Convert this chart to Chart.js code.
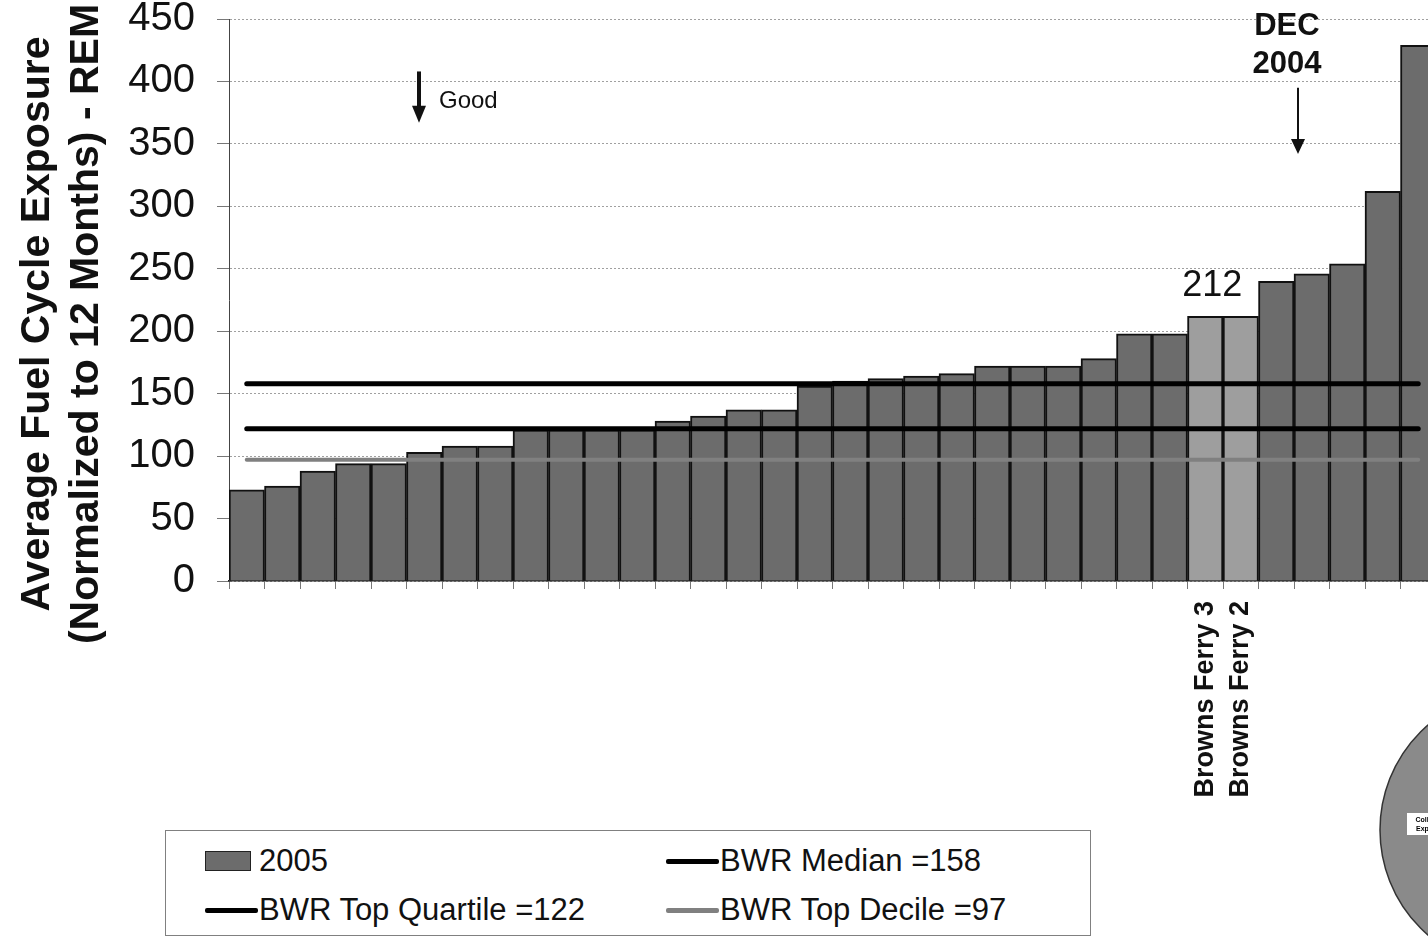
<!DOCTYPE html>
<html>
<head>
<meta charset="utf-8">
<script src="https://cdn.jsdelivr.net/npm/chart.js@4.4.1/dist/chart.umd.min.js"></script>
<style>
  html, body { margin: 0; padding: 0; background: #fff; }
  body { width: 1428px; height: 936px; overflow: hidden; position: relative; font-family: "Liberation Sans", Arial, sans-serif; }
  #wrap { position: absolute; left: 0; top: 0; width: 1445px; height: 936px; }
  #legend { position: absolute; left: 165px; top: 830px; width: 924px; height: 104px; border: 1px solid #808080; background: #fff; }
  .mark { position: absolute; }
  .txt { position: absolute; font-size: 31px; line-height: 36px; color: #111; white-space: nowrap; }
</style>
</head>
<body>
<div id="wrap"><canvas id="chart" width="1445" height="936"></canvas></div>
<div id="legend"></div>
<script>
// units along the x axis, only the two Browns Ferry units are named
const units = [
  '', '', '', '', '', '', '', '', '', '', '', '', '', '', '', '', '',
  '', '', '', '', '', '', '', '', '', '', 'Browns Ferry 3', 'Browns Ferry 2',
  '', '', '', '', ''
];
// average fuel cycle exposure, 2005 (REM)
const exposure2005 = [
  73, 76, 88, 94, 94, 103, 108, 108, 121, 121, 121, 121, 128, 132, 137, 137, 156,
  160, 162, 164, 166, 172, 172, 172, 178, 198, 198, 212, 212, 240, 246, 254, 312, 429
];
const bwrMedian = 158;
const bwrTopQuartile = 122;
const bwrTopDecile = 97;
const yTicks = [0, 50, 100, 150, 200, 250, 300, 350, 400, 450];

const FONT = '"Liberation Sans", Arial, sans-serif';
const barDark = '#6c6c6c';
const barLight = '#9e9e9e';
const barColors = units.map(u => u.startsWith('Browns') ? barLight : barDark);
const lastIdx = units.length - 1;

// reference lines run from the first unit to the last one (x = category index)
function refLine(label, value, color, width) {
  return {
    type: 'line',
    label: label + ' =' + value,
    parsing: false,
    data: [{ x: 0, y: value }, { x: lastIdx, y: value }],
    borderColor: color,
    borderWidth: width,
    borderCapStyle: 'round',
    pointRadius: 0,
    order: 0
  };
}

const extras = {
  id: 'extras',
  afterDraw(chart) {
    const { ctx, scales: { x, y } } = chart;
    ctx.save();
    ctx.fillStyle = '#111';
    ctx.strokeStyle = '#111';

    // axis title, two rotated lines
    ctx.font = 'bold 41px ' + FONT;
    ctx.textAlign = 'center';
    ctx.textBaseline = 'alphabetic';
    [['Average Fuel Cycle Exposure', 49], ['(Normalized to 12 Months) - REM', 98]].forEach(([t, bx]) => {
      ctx.save();
      ctx.translate(bx, 324);
      ctx.rotate(-Math.PI / 2);
      ctx.fillText(t, 0, 0);
      ctx.restore();
    });

    // value label over Browns Ferry
    ctx.font = '36px ' + FONT;
    ctx.fillText(String(exposure2005[27]), x.getPixelForValue(27.2), y.getPixelForValue(exposure2005[27]) - 20);

    // "Good" arrow
    const gx = Math.round(x.getPixelForValue(4.85));
    ctx.lineWidth = 4;
    ctx.beginPath();
    ctx.moveTo(gx, y.getPixelForValue(408));
    ctx.lineTo(gx, y.getPixelForValue(378));
    ctx.stroke();
    ctx.beginPath();
    const gTip = y.getPixelForValue(367);
    ctx.moveTo(gx - 7, gTip - 17);
    ctx.lineTo(gx + 7, gTip - 17);
    ctx.lineTo(gx, gTip);
    ctx.closePath();
    ctx.fill();
    ctx.font = '24px ' + FONT;
    ctx.textAlign = 'left';
    ctx.textBaseline = 'middle';
    ctx.fillText('Good', gx + 20, y.getPixelForValue(384));

    // DEC 2004 marker
    ctx.font = 'bold 31px ' + FONT;
    ctx.textAlign = 'center';
    const dx = x.getPixelForValue(29.3);
    ctx.fillText('DEC', dx, y.getPixelForValue(444));
    ctx.fillText('2004', dx, y.getPixelForValue(414));
    const ax = Math.round(x.getPixelForValue(29.6));
    ctx.lineWidth = 2;
    ctx.beginPath();
    ctx.moveTo(ax, y.getPixelForValue(395));
    ctx.lineTo(ax, y.getPixelForValue(350));
    ctx.stroke();
    const aTip = y.getPixelForValue(342);
    ctx.beginPath();
    ctx.moveTo(ax - 7, aTip - 15);
    ctx.lineTo(ax + 7, aTip - 15);
    ctx.lineTo(ax, aTip);
    ctx.closePath();
    ctx.fill();

    // partial circle badge, bottom right
    ctx.beginPath();
    ctx.arc(1519, 830, 139, 0, Math.PI * 2);
    ctx.fillStyle = '#8a8a8a';
    ctx.fill();
    ctx.lineWidth = 1.5;
    ctx.strokeStyle = '#333';
    ctx.stroke();
    ctx.fillStyle = '#fff';
    ctx.fillRect(1407, 813, 50, 22);
    ctx.fillStyle = '#000';
    ctx.font = 'bold 7px ' + FONT;
    ctx.fillText('Collective', 1432, 820);
    ctx.fillText('Exposure', 1432, 829);
    ctx.restore();
  }
};

const chart = new Chart(document.getElementById('chart'), {
  type: 'bar',
  data: {
    labels: units,
    datasets: [
      {
        label: '2005',
        data: exposure2005,
        backgroundColor: barColors,
        borderColor: '#111',
        borderWidth: 2,
        barPercentage: 1,
        categoryPercentage: 1,
        order: 1
      },
      refLine('BWR Median', bwrMedian, '#000', 5),
      refLine('BWR Top Quartile', bwrTopQuartile, '#000', 5),
      refLine('BWR Top Decile', bwrTopDecile, '#808080', 4)
    ]
  },
  options: {
    responsive: false,
    animation: false,
    layout: { padding: { top: 0, right: 9, bottom: 0, left: 0 } },
    plugins: { legend: { display: false }, tooltip: { enabled: false } },
    scales: {
      x: {
        type: 'category',
        afterFit: s => { s.height = 355; s.paddingLeft = 0; s.paddingRight = 0; },
        grid: { drawOnChartArea: false, offset: true, tickLength: 8, color: '#777' },
        border: { color: '#222', width: 1.5 },
        ticks: {
          autoSkip: false,
          minRotation: 90,
          maxRotation: 90,
          padding: 12,
          color: '#111',
          font: { family: FONT, size: 27, weight: 'bold' }
        }
      },
      y: {
        min: 0,
        max: 450,
        afterFit: s => { s.width = 229; s.paddingTop = 19; s.paddingBottom = 0; },
        afterBuildTicks: s => { s.ticks = yTicks.map(v => ({ value: v })); },
        grid: { color: '#a0a0a0', lineWidth: 1, tickLength: 12, tickColor: '#777' },
        border: { color: '#444', width: 1, dash: [2, 2] },
        ticks: {
          padding: 22,
          color: '#111',
          font: { family: FONT, size: 40, lineHeight: 1 }
        }
      }
    }
  },
  plugins: [extras]
});

// legend box built from the datasets, two columns
const legend = document.getElementById('legend');
const colLeft = [39, 500];
const rowMid = [30, 79];
chart.data.datasets.forEach((ds, i) => {
  const col = i % 2, row = Math.floor(i / 2);
  const mark = document.createElement('div');
  mark.className = 'mark';
  if (ds.type === 'line') {
    mark.style.left = colLeft[col] + 'px';
    mark.style.top = (rowMid[row] - 2.5) + 'px';
    mark.style.width = '53px';
    mark.style.height = '5px';
    mark.style.background = ds.borderColor;
    mark.style.borderRadius = '2px';
  } else {
    mark.style.left = colLeft[col] + 'px';
    mark.style.top = (rowMid[row] - 10) + 'px';
    mark.style.width = '44px';
    mark.style.height = '18px';
    mark.style.background = barDark;
    mark.style.border = '1px solid #222';
  }
  legend.appendChild(mark);
  const txt = document.createElement('div');
  txt.className = 'txt';
  txt.textContent = ds.label;
  txt.style.left = (colLeft[col] + 54) + 'px';
  txt.style.top = (rowMid[row] - 18) + 'px';
  legend.appendChild(txt);
});
</script>
</body>
</html>
